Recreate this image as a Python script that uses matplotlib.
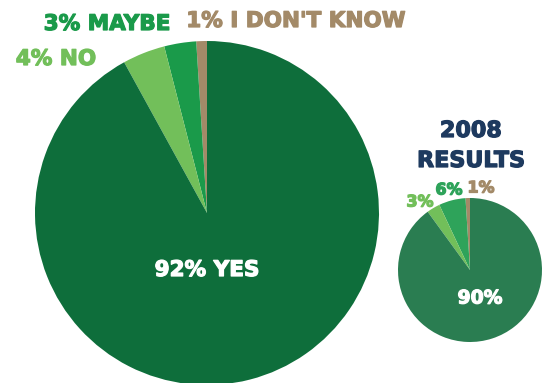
import matplotlib
matplotlib.use("Agg")
import matplotlib.pyplot as plt
import matplotlib.patheffects as pe

# survey answers (current) and 2008 results
answers = ["YES", "NO", "MAYBE", "I DON'T KNOW"]
now_pct = [92, 4, 3, 1]
old_pct = [90, 3, 6, 1]

now_colors = ["#0e6e3b", "#72bf5a", "#1a9a4a", "#a38a68"]
old_colors = ["#2a7d51", "#72bf5a", "#2ea35a", "#a38a68"]

plt.rcParams['font.family'] = ['DejaVu Sans']

fig = plt.figure(figsize=(5.43, 3.83), dpi=100)
ax = fig.add_axes([0, 0, 1, 1])

# pies go counterclockwise from 12 o'clock, small slices first
order = [3, 2, 1, 0]
ax.pie([now_pct[i] for i in order], colors=[now_colors[i] for i in order],
       startangle=90, counterclock=True, center=(207, 170), radius=172,
       wedgeprops=dict(linewidth=0), frame=True)
ax.pie([old_pct[i] for i in order], colors=[old_colors[i] for i in order],
       startangle=90, counterclock=True, center=(470, 113), radius=72,
       wedgeprops=dict(linewidth=0), frame=True)
ax.set_xlim(0, 543)
ax.set_ylim(0, 383)
ax.set_aspect('equal')
ax.axis('off')


def label(x, y, s, color, size):
    t = ax.text(x, y, s, color=color, fontsize=size, fontweight='bold',
                ha='center', va='center')
    t.set_path_effects([pe.withStroke(linewidth=0.9, foreground=color)])


label(207, 113, f"{now_pct[0]}% {answers[0]}", 'white', 15.5)
label(56, 324, f"{now_pct[1]}% {answers[1]}", now_colors[1], 15.5)
label(107, 359, f"{now_pct[2]}% {answers[2]}", now_colors[2], 15.5)
label(296, 362, f"{now_pct[3]}% {answers[3]}", now_colors[3], 15.5)

label(471, 252, "2008", '#1e3a5f', 16)
label(471, 222, "RESULTS", '#1e3a5f', 16)
label(480, 85, f"{old_pct[0]}%", 'white', 13.5)
label(420, 181, f"{old_pct[1]}%", old_colors[1], 11.5)
label(449, 193, f"{old_pct[2]}%", old_colors[2], 11.5)
label(481, 195, f"{old_pct[3]}%", old_colors[3], 11.5)

fig.savefig("out.png", dpi=100)
